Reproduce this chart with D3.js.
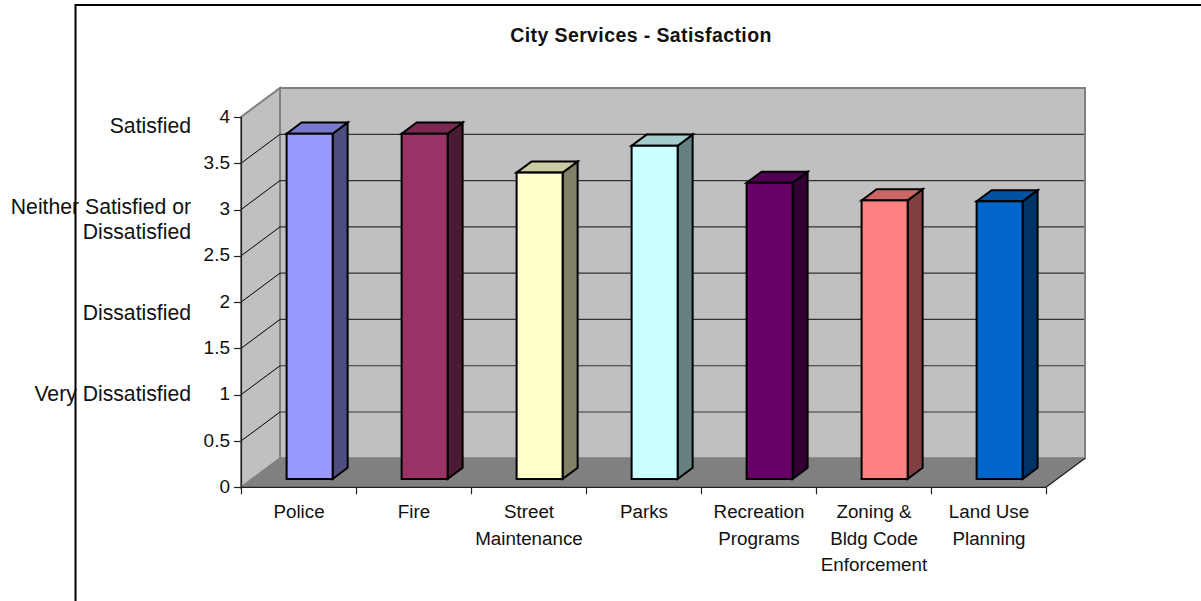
<!DOCTYPE html>
<html><head><meta charset="utf-8">
<script src="https://cdn.jsdelivr.net/npm/d3@7/dist/d3.min.js"></script>
<style>html,body{margin:0;padding:0;background:#fff}svg{display:block}text{font-family:"Liberation Sans",Arial,sans-serif;fill:#111}</style>
</head><body><svg id="c" width="1201" height="601"></svg>
<script>
const categories=["Police","Fire","Street Maintenance","Parks","Recreation Programs","Zoning & Bldg Code Enforcement","Land Use Planning"];
const categoryLines=[["Police"],["Fire"],["Street","Maintenance"],["Parks"],["Recreation","Programs"],["Zoning &","Bldg Code","Enforcement"],["Land Use","Planning"]];
const values=[3.73,3.73,3.31,3.6,3.2,3.01,3.0];
const colors=["#9999FF","#993366","#FFFFCC","#CCFFFF","#660066","#FF8080","#0066CC"];
const yTicks=[0,0.5,1,1.5,2,2.5,3,3.5,4];
const sideLabels=[{lines:["Satisfied"],v:3.885},{lines:["Neither Satisfied or","Dissatisfied"],v:2.875},{lines:["Dissatisfied"],v:1.867},{lines:["Very Dissatisfied"],v:0.99}];
const title="City Services - Satisfaction";

const svg=d3.select("#c");
const x=d3.scaleBand().domain(categories).range([241,1046]).paddingInner(0).paddingOuter(0);
const y=d3.scaleLinear().domain([0,4]).range([487.3,117]);
const DX=39,DY=-29;
const P=a=>a.map(p=>p.join(",")).join(" ");
const x0=x.range()[0],x1=x.range()[1],yb=y(0),yt=y(4);

// outer frame
svg.append("path").attr("d",`M75.5,601V5H1201`).attr("fill","none").attr("stroke","#000").attr("stroke-width",2);

// walls
const wall=svg.append("g").attr("stroke","#808080").attr("stroke-width",2);
wall.append("polygon").attr("points",P([[x0+DX,yb+DY],[x1+DX,yb+DY],[x1+DX,yt+DY],[x0+DX,yt+DY]])).attr("fill","#C0C0C0");
wall.append("polygon").attr("points",P([[x0,yb],[x0+DX,yb+DY],[x0+DX,yt+DY],[x0,yt]])).attr("fill","#C0C0C0");
wall.append("polygon").attr("points",P([[x0,yb],[x1,yb],[x1+DX,yb+DY],[x0+DX,yb+DY]])).attr("fill","#808080").attr("stroke-width",1);

// gridlines
const g=svg.append("g").attr("fill","none");
yTicks.slice(1,-1).forEach(t=>{
  g.append("path").attr("d",`M${x0},${y(t)}L${x0+DX},${y(t)+DY}`).attr("stroke","#000").attr("stroke-width",1);
  g.append("path").attr("d",`M${x0+DX},${y(t)+DY}H${x1+DX-1}`).attr("stroke","#333").attr("stroke-width",1.2);
});

// axes
const ax=svg.append("g").attr("stroke","#222").attr("stroke-width",1.2).attr("fill","none");
ax.append("path").attr("d",`M${x0+.5},${yt}V${yb}H${x1}`);
ax.append("path").attr("d",`M${x1},${yb}L${x1+DX},${yb+DY}`);
yTicks.forEach(t=>ax.append("path").attr("d",`M${x0-7},${Math.round(y(t))+.5}H${x0}`));
x.domain().concat(["end"]).forEach((c,i)=>{
  const px=Math.round(x0+i*x.bandwidth())+.5;
  ax.append("path").attr("d",`M${px},${yb}V${yb+7}`);
});
svg.selectAll("text.yt").data(yTicks).join("text").attr("class","yt")
  .attr("x",230).attr("y",d=>y(d)+5.5).attr("text-anchor","end").attr("font-size",19).text(d=>d);

// bars
const bw=x.bandwidth()*0.4, off=x.bandwidth()*0.3;
const fz=0.285, bz=0.385;
categories.forEach((c,i)=>{
  const col=d3.color(colors[i]);
  const shade=k=>d3.rgb(col.r*k,col.g*k,col.b*k).formatHex();
  const l=x(c)+off+DX*fz, r=l+bw;
  const b=y(0)+DY*fz, t=y(values[i])+DY*fz;
  const dx=DX*bz, dy=DY*bz;
  const m=svg.append("g").attr("stroke","#000").attr("stroke-width",2).attr("stroke-linejoin","miter");
  m.append("polygon").attr("points",P([[r,b],[r+dx,b+dy],[r+dx,t+dy],[r,t]])).attr("fill",shade(0.5));
  m.append("polygon").attr("points",P([[l,t],[r,t],[r+dx,t+dy],[l+dx,t+dy]])).attr("fill",shade(0.8));
  m.append("rect").attr("x",l).attr("y",t).attr("width",bw).attr("height",b-t).attr("fill",colors[i]);
});

// category labels
categoryLines.forEach((ls,i)=>{
  const cx=x(categories[i])+x.bandwidth()/2+0.5;
  ls.forEach((s,j)=>svg.append("text").attr("x",cx).attr("y",518+j*26.5).attr("text-anchor","middle").attr("font-size",18.8).text(s));
});

// side labels
sideLabels.forEach(o=>{
  const base=y(o.v)+5.5-(o.lines.length-1)*12.5;
  o.lines.forEach((s,j)=>svg.append("text").attr("x",191).attr("y",base+j*25).attr("text-anchor","end").attr("font-size",21.2).text(s));
});

svg.append("text").attr("x",641).attr("y",41.5).attr("text-anchor","middle").attr("font-size",19.5).attr("font-weight","bold").attr("letter-spacing",0.4).text(title);
</script></body></html>
